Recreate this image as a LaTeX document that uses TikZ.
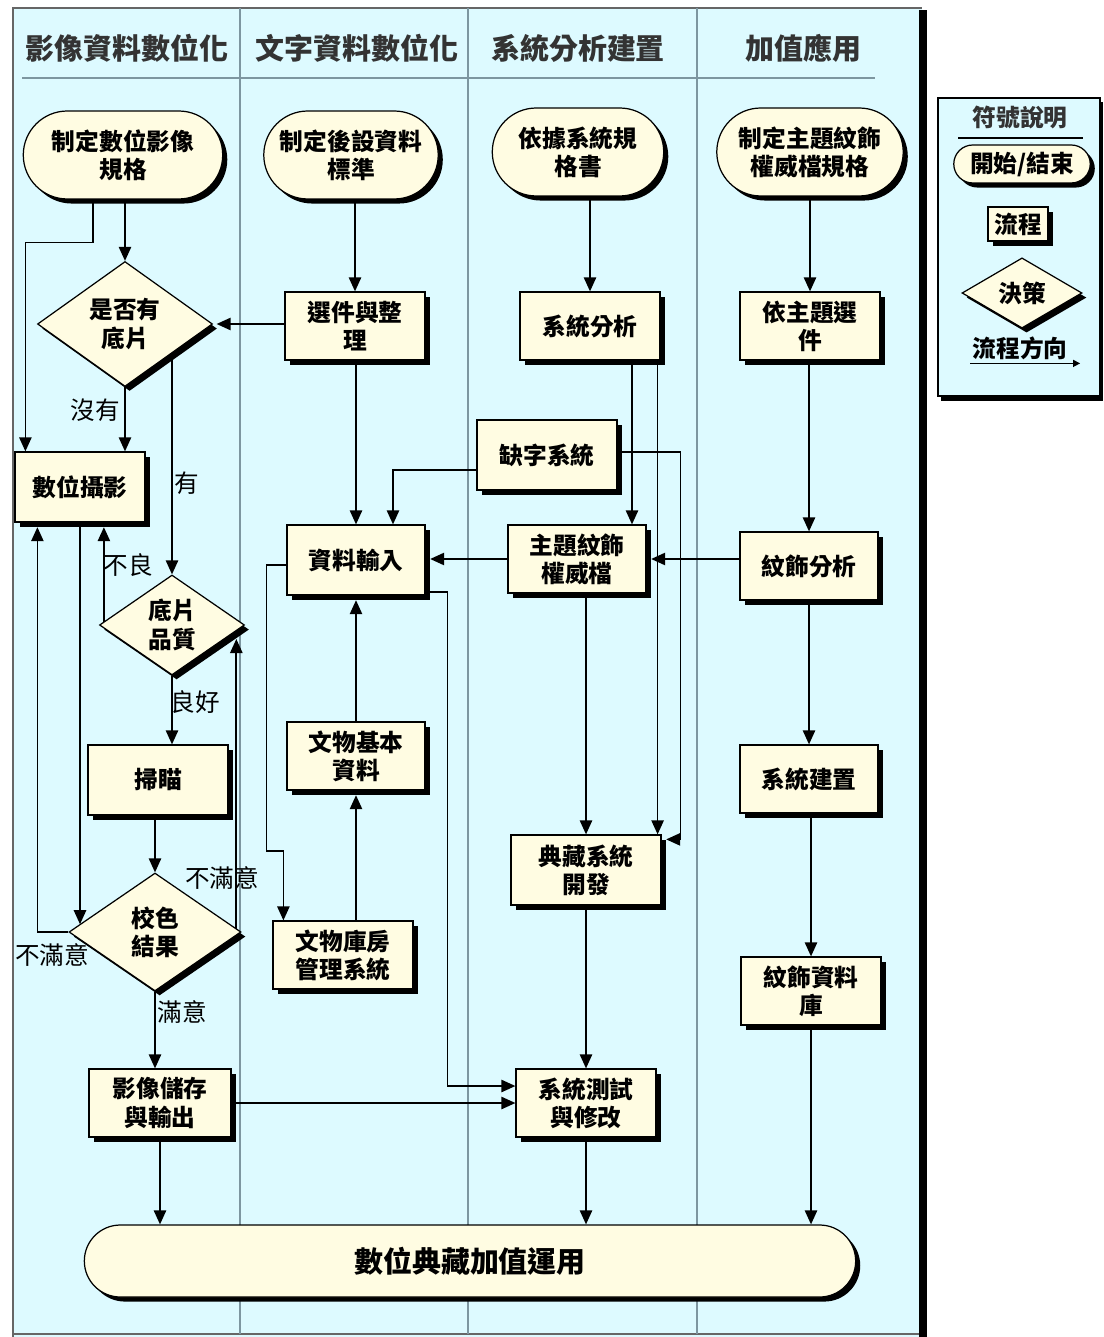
\documentclass[tikz,border=0pt]{standalone}
\usepackage{fontspec}
\setmainfont{Noto Sans CJK TC}
\usepackage{tikz}
\usetikzlibrary{arrows.meta,shapes.geometric,shapes.misc,shadows,calc}
\definecolor{lanebg}{RGB}{221,250,255}
\definecolor{boxfill}{RGB}{255,252,226}
\definecolor{laneline}{RGB}{125,150,160}
\newcommand{\boxfont}{\bfseries\fontsize{13.5}{16}\selectfont}
\newcommand{\headfont}{\bfseries\fontsize{16.5}{19}\selectfont}
\newcommand{\lblfont}{\fontsize{14}{16}\selectfont}
\tikzstyle{boxshadow}=[drop shadow={shadow xshift=2.6pt,shadow yshift=-2.6pt,opacity=1,fill=black}]
\tikzstyle{proc}=[draw,line width=0.7pt,fill=boxfill,boxshadow,align=center,font=\boxfont,inner sep=1pt,minimum width=2.8cm,minimum height=1.36cm]
\tikzstyle{term}=[proc,rounded rectangle]
\tikzstyle{decide}=[proc,diamond,inner sep=0pt]
\tikzstyle{arr}=[-{Triangle[length=8pt,width=7pt]},line width=1pt]
\tikzstyle{lbl}=[font=\lblfont,inner sep=1pt]
\tikzstyle{head}=[font=\headfont,text=black!80]
\pgfdeclarelayer{lanes}
\pgfdeclarelayer{edges}
\pgfsetlayers{lanes,edges,main}

\begin{document}
\begin{tikzpicture}[x=0.02cm,y=-0.02cm]
\useasboundingbox (0,0) rectangle (1103,1337);
\begin{pgfonlayer}{lanes}
  \fill[lanebg] (13,8) rectangle (922,1337);
  \draw[black!60,line width=0.8pt] (13,1337) -- (13,8) -- (922,8);
  \draw[black!60,line width=0.8pt] (13,1334) -- (922,1334);
  \fill[black] (919,10) rectangle (927,1337);
  \foreach \xx in {240,468,697}
    \draw[laneline,line width=0.7pt] (\xx,8) -- (\xx,1334);
  \draw[laneline,line width=0.7pt] (22,78) -- (875,78);
  % legend frame
  \fill[black] (941,102) rectangle (1103,401);
  \filldraw[fill=lanebg,draw=black,line width=0.8pt] (938,98) rectangle (1100,396);
\end{pgfonlayer}

  \foreach \place/\name/\txt in {{(127,48)/h1/影像資料數位化},
                                 {(357,48)/h2/文字資料數位化},
                                 {(578,48)/h3/系統分析建置},
                                 {(803,48)/h4/加值應用}}
    \node[head] (\name) at \place {\txt};

  % starts
  \node[term,minimum width=4.06cm,minimum height=1.76cm] (t1) at (123,155) {制定數位影像\\規格};
  \node[term,minimum width=3.56cm,minimum height=1.76cm] (t2) at (351,155) {制定後設資料\\標準};
  \node[term,minimum width=3.5cm,minimum height=1.76cm] (t3) at (578,152) {依據系統規\\格書};
  \node[term,minimum width=3.8cm,minimum height=1.76cm] (t4) at (810,152) {制定主題紋飾\\權威檔規格};

  % steps
  \node[decide,minimum width=3.5cm,minimum height=2.5cm] (d1) at (125,324) {是否有\\底片};
  \node[proc] (sel) at (355,326) {選件與整\\理};
  \node[proc] (ana) at (590,326) {系統分析};
  \node[proc] (bysel) at (810,326) {依主題選\\件};
  \node[proc,minimum width=2.6cm,minimum height=1.4cm] (cam) at (80,487) {數位攝影};
  \node[proc,minimum height=1.4cm] (miss) at (547,455) {缺字系統};
  \node[proc,minimum width=2.76cm,minimum height=1.4cm] (input) at (356,560) {資料輸入};
  \node[proc,minimum width=2.76cm] (auth) at (577,559) {主題紋飾\\權威檔};
  \node[proc,minimum width=2.76cm] (pat) at (809,566) {紋飾分析};
  \node[decide,minimum width=2.9cm,minimum height=2cm] (d2) at (172,625) {底片\\品質};
  \node[proc,minimum height=1.4cm] (scan) at (158,780) {掃瞄};
  \node[proc,minimum width=2.76cm] (basic) at (356,756) {文物基本\\資料};
  \node[proc,minimum width=2.76cm] (build) at (809,779) {系統建置};
  \node[proc,minimum width=3cm,minimum height=1.4cm] (dev) at (586,870) {典藏系統\\開發};
  \node[decide,minimum width=3.44cm,minimum height=2.36cm] (d3) at (155,932) {校色\\結果};
  \node[proc] (vault) at (343,955) {文物庫房\\管理系統};
  \node[proc] (db) at (811,991) {紋飾資料\\庫};
  \node[proc,minimum width=2.84cm] (store) at (160,1103) {影像儲存\\與輸出};
  \node[proc] (test) at (586,1103) {系統測試\\與修改};
  \node[term,minimum width=15.5cm,minimum height=1.44cm,font=\headfont] (fin) at (470,1261) {數位典藏加值運用};

  % labels
  \node[lbl] (l1) at (95,410) {沒有};
  \node[lbl] (l2) at (187,483) {有};
  \node[lbl] (l3) at (128,565) {不良};
  \node[lbl] (l4) at (195,702) {良好};
  \node[lbl] (l5) at (222,878) {不滿意};
  \node[lbl] (l6) at (52,955) {不滿意};
  \node[lbl] (l7) at (182,1012) {滿意};

  % legend
  \node[head,font=\boxfont] (legtitle) at (1020,117) {符號說明};
  \draw[line width=0.7pt] (958,138) -- (1083,138);
  \node[term,minimum width=2.8cm,minimum height=0.76cm] (legt) at (1022,164) {開始/結束};
  \node[proc,minimum width=1.2cm,minimum height=0.68cm] (legp) at (1018,224) {流程};
  \node[decide,minimum width=2.4cm,minimum height=1.4cm] (legd) at (1022,293) {決策};
  \node[lbl,font=\boxfont] (legarr) at (1020,348) {流程方向};
  \draw[-{Triangle[length=4pt,width=4pt]},line width=0.8pt] ([yshift=-1pt]legarr.south west) -- ([xshift=6pt,yshift=-1pt]legarr.south east);

\begin{pgfonlayer}{edges}
  \coordinate (camlow) at ([yshift=-2.6pt]cam.south);
  \coordinate (d3in) at ($(d3.west)!0.13!(d3.north)$);
  \coordinate (d2in) at ($(d2.east)!0.12!(d2.south)$);
  \foreach \source/\dest in {t1/d1,t2/sel,t3/ana,t4/bysel,bysel/pat,pat/build,
                             build/db,sel/input,scan/d3,auth/dev,dev/test}
    \draw[arr] (\dest.north |- \source.south) -- (\dest.north);
  \foreach \source/\dest in {d1/cam,d2/scan,d3/store,store/fin,test/fin,db/fin}
    \draw[arr] (\source.south) -- (\source.south |- \dest.north);
  \draw[arr] ([xshift=-0.6cm]t1.south) -- ++(0,43) -| ([xshift=0.22cm]cam.north west);
  \draw[arr] (sel.west |- d1.east) -- ([xshift=2pt]d1.east);
  \draw[arr] (d2.north |- d1.east) -- (d2.north);
  \draw[arr] ([xshift=0.1cm]d2.west) -- ([xshift=0.1cm]d2.west |- camlow);
  \draw[arr] (d3.west) -| ([xshift=0.46cm]cam.south west |- camlow);
  \draw[arr] (cam.south) -- (cam.south |- d3in);
  \draw[arr] (d2in |- d3.east) -- ([yshift=-4.5pt]d2in);
  \draw[arr] (store.east) -- (store.east -| test.west);
  \draw[arr] ([yshift=-0.64cm]input.east) -- ++(22,0) |- ([yshift=0.34cm]test.west);
  \draw[arr] ([yshift=-0.1cm]input.west) -- ++(-20,0) -- ++(0,286) -| ([xshift=0.22cm]vault.north west);
  \draw[arr] (basic.south |- vault.north) -- ([yshift=-2.6pt]basic.south);
  \draw[arr] (basic.north) -- ([yshift=-2.6pt]input.south);
  \draw[arr] ([yshift=-0.3cm]miss.west) -| ([xshift=0.74cm]input.north);
  \draw[arr] ([yshift=0.06cm]miss.east) -- ++(63,0) |- ([xshift=2.6pt,yshift=-0.1cm]dev.north east);
  \draw[arr] ([xshift=0.84cm]ana.south) -- ([xshift=0.84cm]ana.south |- auth.north);
  \draw[arr] ([xshift=-0.06cm]ana.south east) -- ([xshift=-0.06cm]ana.south east |- dev.north);
  \draw[arr] (pat.west |- auth.east) -- ([xshift=2.6pt]auth.east);
  \draw[arr] (auth.west) -- ([xshift=2.6pt]auth.west -| input.east);
\end{pgfonlayer}
\end{tikzpicture}
\end{document}
